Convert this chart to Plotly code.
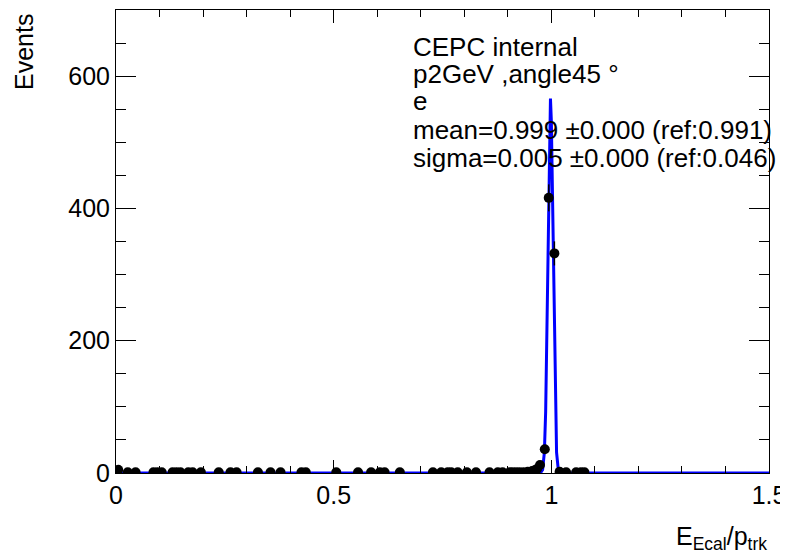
import numpy as np
import plotly.graph_objects as go

# ---- data ----
data_x = [0.005, 0.027, 0.045, 0.086, 0.095, 0.105, 0.130, 0.139, 0.148, 0.166,
          0.176, 0.195, 0.236, 0.263, 0.277, 0.326, 0.355, 0.378, 0.426, 0.436,
          0.506, 0.556, 0.586, 0.606, 0.617, 0.652, 0.728, 0.747, 0.762, 0.770,
          0.785, 0.806, 0.827, 0.858, 0.877, 0.888, 0.904, 0.911, 0.919, 0.927,
          0.936, 0.946, 0.956, 0.962, 0.967, 0.974, 0.985, 0.994, 1.007, 1.019,
          1.034, 1.057, 1.068, 1.076]
data_y = [5, 1, 1, 1, 1, 1, 1, 1, 1, 1,
          1, 1, 1, 1, 1, 1, 1, 1, 1, 1,
          1, 1, 1, 1, 1, 1, 1, 1, 1, 1,
          1, 1, 1, 1, 1, 1, 1, 1, 1, 1,
          1, 2, 3, 4, 6, 12, 36, 416, 332, 2,
          1, 1, 1, 1]

fit_x = [0.0, 0.975, 0.980, 0.984, 0.987, 0.990, 0.992, 0.994, 0.996, 0.998,
         1.000, 1.002, 1.004, 1.006, 1.009, 1.012, 1.016, 1.020, 1.5]
fit_y = [0, 0, 5, 31, 93, 219, 331, 446, 533, 566,
         533, 446, 331, 219, 93, 31, 5, 0, 0]

x_ticks = [0, 0.5, 1, 1.5]
x_ticklabels = ["0", "0.5", "1", "1.5"]
y_ticks = [0, 200, 400, 600]
y_ticklabels = ["0", "200", "400", "600"]

info_lines = ["CEPC internal",
              "p2GeV ,angle45 °",
              "e",
              "mean=0.999 ±0.000 (ref:0.991)",
              "sigma=0.005 ±0.000 (ref:0.046)"]

FONT = "Liberation Sans, Arial, Helvetica, sans-serif"

# page body has an 8px margin, so the figure is placed at (8, 8)
OFF = 8
FW, FH = 788 - OFF, 559 - OFF
L, R, T, B = 116 - OFF, 769 - OFF, 10 - OFF, 473 - OFF
W, H = R - L, B - T

fig = go.Figure()
fig.add_trace(go.Scatter(x=fit_x, y=fit_y, mode="lines",
                         line=dict(color="#0000ff", width=3),
                         hoverinfo="skip", showlegend=False))
fig.add_trace(go.Scatter(x=data_x, y=data_y, mode="markers",
                         marker=dict(color="black", size=10),
                         error_y=dict(type="data", array=list(np.sqrt(data_y)),
                                      color="black", thickness=1.5, width=0),
                         showlegend=False))

line_y_px = [46.7, 74, 101, 130, 158]
for txt, py in zip(info_lines, line_y_px):
    fig.add_annotation(text=txt, xref="paper", yref="paper",
                       x=(411 - OFF - L) / W, y=(B - (py - OFF)) / H,
                       xanchor="left", yanchor="middle", showarrow=False,
                       font=dict(family=FONT, size=26, color="black"))

fig.add_annotation(text="E<sub>Ecal</sub>/p<sub>trk</sub>", xref="paper", yref="paper",
                   x=1.0, y=-((538 - OFF) - B) / H,
                   xanchor="right", yanchor="middle", showarrow=False,
                   font=dict(family=FONT, size=25, color="black"))
fig.add_annotation(text="Events", xref="paper", yref="paper",
                   x=-(L - (24 - OFF)) / W, y=(B - (52 - OFF)) / H,
                   xanchor="center", yanchor="middle", textangle=-90, showarrow=False,
                   font=dict(family=FONT, size=25, color="black"))

axis_common = dict(showgrid=False, zeroline=False, showline=True, linecolor="black",
                   linewidth=1, mirror="allticks", ticks="inside", automargin=False,
                   tickcolor="black", tickfont=dict(family=FONT, size=25, color="black"))

fig.update_xaxes(range=[0, 1.5], tickvals=x_ticks, ticktext=x_ticklabels,
                 ticklen=13, tickwidth=1,
                 minor=dict(ticks="inside", dtick=0.1, ticklen=7, tickcolor="black", showgrid=False),
                 **axis_common)
fig.update_yaxes(range=[0, 700], tickvals=y_ticks, ticktext=y_ticklabels,
                 ticklen=20, tickwidth=1,
                 minor=dict(ticks="inside", dtick=50, ticklen=10, tickcolor="black", showgrid=False),
                 **axis_common)

fig.update_layout(width=FW, height=FH,
                  margin=dict(l=L, r=FW - R, t=T, b=FH - B, autoexpand=False),
                  paper_bgcolor="white", plot_bgcolor="white",
                  font=dict(family=FONT, color="black"))

fig.write_html("out.html")
